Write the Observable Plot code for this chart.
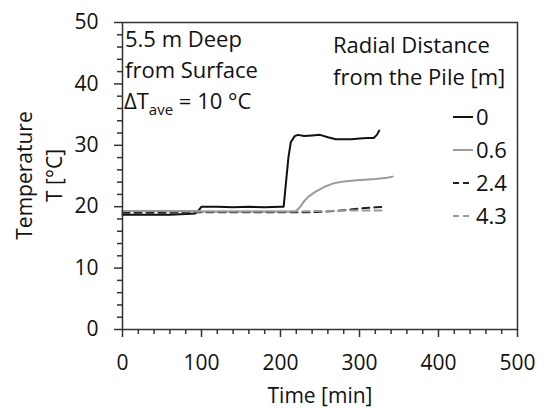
<!DOCTYPE html>
<html>
<head>
<meta charset="utf-8">
<script src="https://cdn.jsdelivr.net/npm/d3@7"></script>
<script src="https://cdn.jsdelivr.net/npm/@observablehq/plot@0.6"></script>
<style>
  html, body { margin: 0; padding: 0; background: #fff; }
  #chart { width: 544px; height: 408px; }
  svg { font-family: "Open Sans", sans-serif; }
</style>
</head>
<body>
<div id="chart"></div>
<script>
// ---- data ----
const seriesNames = ["0", "0.6", "2.4", "4.3"];
const seriesColors = ["#111111", "#9a9a9a", "#222222", "#9a9a9a"];
const seriesDash = ["none", "none", "7,5", "7,5"];

const t0 = [0, 20, 40, 60, 80, 92, 97, 100, 120, 140, 160, 180, 200, 204, 207, 210, 213, 218, 222, 230, 240, 250, 260, 270, 280, 290, 300, 310, 318, 322, 325];
const v0 = [18.7, 18.7, 18.7, 18.7, 18.8, 18.9, 19.5, 20.0, 20.0, 19.9, 20.0, 19.9, 20.0, 20.0, 24.0, 28.0, 30.5, 31.5, 31.7, 31.5, 31.6, 31.7, 31.3, 31.0, 31.0, 31.0, 31.1, 31.2, 31.2, 31.7, 32.4];

const t1 = [0, 50, 95, 100, 150, 200, 219, 225, 230, 235, 245, 255, 267, 280, 297, 320, 335, 342];
const v1 = [19.3, 19.3, 19.3, 19.2, 19.2, 19.2, 19.2, 20.0, 20.9, 21.6, 22.5, 23.2, 23.8, 24.1, 24.3, 24.5, 24.7, 24.9];

const t2 = [0, 50, 100, 150, 200, 240, 270, 300, 320, 333];
const v2 = [19.0, 19.0, 19.1, 19.1, 19.1, 19.1, 19.3, 19.7, 19.9, 20.0];

const t3 = [0, 50, 100, 150, 200, 250, 300, 333];
const v3 = [19.3, 19.3, 19.2, 19.2, 19.2, 19.3, 19.4, 19.4];

const xMajor = [0, 100, 200, 300, 400, 500];
const yMajor = [0, 10, 20, 30, 40, 50];

const times = [t0, t1, t2, t3];
const values = [v0, v1, v2, v3];
const rows = seriesNames.flatMap((s, i) => times[i].map((t, j) => ({series: s, time: t, temp: values[i][j]})));

const xMinor = d3.range(0, 501, 20).filter(d => d % 100 !== 0);
const yMinor = d3.range(0, 51, 2).filter(d => d % 10 !== 0);

const W = 544, H = 408;
const M = {top: 22, right: 27, bottom: 79, left: 122};
const FS = 21;   // tick labels and axis titles
const FA = 22;   // annotations and legend

const plot = Plot.plot({
  width: W, height: H,
  marginTop: M.top, marginRight: M.right, marginBottom: M.bottom, marginLeft: M.left,
  style: {fontFamily: '"Open Sans", sans-serif', fontSize: FS + "px", color: "#111", background: "#fff"},
  x: {domain: [0, 500]},
  y: {domain: [0, 50]},
  marks: [
    Plot.axisX({ticks: xMinor, tickSize: 5, tickFormat: () => "", label: null, stroke: "#333", strokeWidth: 1.5}),
    Plot.axisX({ticks: xMajor, tickSize: 8, tickPadding: 18, label: null, stroke: "#333", strokeWidth: 1.5, fontSize: FS}),
    Plot.axisY({ticks: yMinor, tickSize: 5, tickFormat: () => "", label: null, stroke: "#333", strokeWidth: 1.5}),
    Plot.axisY({ticks: yMajor, tickSize: 8, tickPadding: 16, label: null, stroke: "#333", strokeWidth: 1.5, fontSize: FS}),
    ...seriesNames.map((s, i) => Plot.line(rows.filter(r => r.series === s), {
      x: "time", y: "temp", stroke: seriesColors[i], strokeWidth: 2,
      strokeDasharray: seriesDash[i] === "none" ? undefined : seriesDash[i]
    })),
    Plot.frame({stroke: "#333", strokeWidth: 1.5}),
    Plot.text(["Time [min]"], {frameAnchor: "bottom", lineAnchor: "bottom", dy: 73, fontSize: FS, fill: "#111"})
  ]
});

document.getElementById("chart").appendChild(plot);

// ---- axis title, annotations and legend ----
const svg = d3.select(plot);
const g = svg.append("g").attr("font-family", '"Open Sans", sans-serif').attr("font-size", FA)
  .attr("fill", "#111").attr("text-anchor", "start");

// y-axis title (two lines, rotated)
const cy = M.top + (H - M.top - M.bottom) / 2;
const cx = M.left - 82;
const yl = g.append("g").attr("font-size", FS).attr("text-anchor", "middle")
  .attr("transform", `translate(${cx},${cy}) rotate(-90)`);
yl.append("text").attr("x", 0).attr("y", -15).attr("dy", "0.35em").text("Temperature");
yl.append("text").attr("x", 0).attr("y", 15).attr("dy", "0.35em").text("T [°C]");

const ann = g.append("g");
ann.append("text").attr("x", M.left + 3).attr("y", M.top + 25).text("5.5 m Deep");
ann.append("text").attr("x", M.left + 3).attr("y", M.top + 56).text("from Surface");
const dt = ann.append("text").attr("x", M.left + 2).attr("y", M.top + 87);
dt.append("tspan").text("ΔT");
dt.append("tspan").attr("font-size", 15).attr("dy", 6).text("ave");
dt.append("tspan").attr("dy", -6).text(" = 10 °C");

const legX = 333;
g.append("text").attr("x", legX).attr("y", M.top + 31).text("Radial Distance");
g.append("text").attr("x", legX).attr("y", M.top + 63).text("from the Pile [m]");

const legY0 = M.top + 95, legStep = 33;
seriesNames.forEach((s, i) => {
  const y = legY0 + i * legStep;
  g.append("line").attr("x1", 453).attr("x2", 473).attr("y1", y).attr("y2", y)
    .attr("stroke", seriesColors[i]).attr("stroke-width", 2)
    .attr("stroke-dasharray", seriesDash[i] === "none" ? null : "6,4");
  g.append("text").attr("x", 476).attr("y", y).attr("dy", "0.35em").text(s);
});
</script>
</body>
</html>
